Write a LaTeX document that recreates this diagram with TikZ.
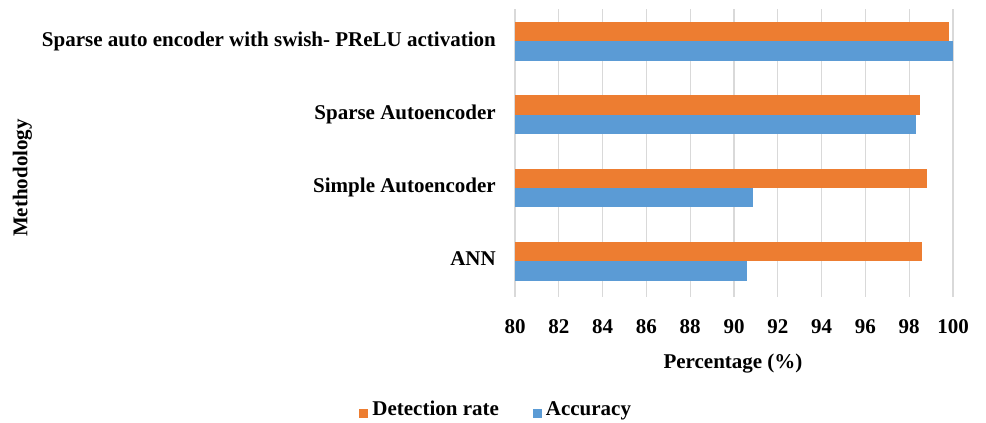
\documentclass[tikz,border=0pt]{standalone}
\usepackage{fontspec}
\setmainfont{Liberation Serif}
\usepackage{xcolor}
\usepackage{tikz}
\usetikzlibrary{positioning}
\definecolor{detorange}{HTML}{ED7D31}
\definecolor{accblue}{HTML}{5B9BD5}
\definecolor{gridgray}{HTML}{D9D9D9}
\tikzset{
    txt/.style={inner sep=0pt,text height=0.68em,text depth=0.22em,
        font=\bfseries\fontsize{21}{24}\selectfont},
    catlabel/.style={txt,anchor=east},
    ticklabel/.style={txt,anchor=center},
    gridline/.style={draw=gridgray,line width=1.2pt},
    detbar/.style={fill=detorange},
    accbar/.style={fill=accblue},
    legkey/.style={minimum size=9pt,inner sep=0pt}
}
\begin{document}
\begin{tikzpicture}[x=1pt,y=-1pt]
    \useasboundingbox (0,0) rectangle (986,423);

    % value axis: x coordinate is the percentage itself
    \begin{scope}[x=21.9pt,xshift=-1237pt]
        \foreach \v in {80,82,...,100} {
            \draw[gridline] (\v,9) -- (\v,297);
            \node[ticklabel] (tick\v) at (\v,331) {\v};
        }
        % Sparse auto encoder with swish-PReLU
        \fill[detbar] (80,22) rectangle (99.8,41);
        \fill[accbar] (80,41) rectangle (100,61);
        % Sparse autoencoder
        \fill[detbar] (80,95) rectangle (98.5,114.5);
        \fill[accbar] (80,114.5) rectangle (98.3,133.5);
        % Simple autoencoder
        \fill[detbar] (80,169) rectangle (98.8,188);
        \fill[accbar] (80,188) rectangle (90.85,207);
        % ANN
        \fill[detbar] (80,242) rectangle (98.6,261);
        \fill[accbar] (80,261) rectangle (90.6,281);
    \end{scope}

    \node[catlabel] (cat1) at (496,44) {Sparse auto encoder with swish- PReLU activation};
    \node[catlabel] (cat2) at (496,117) {Sparse Autoencoder};
    \node[catlabel] (cat3) at (496,190) {Simple Autoencoder};
    \node[catlabel] (cat4) at (496,263) {ANN};

    \node[txt,rotate=90] (ytitle) at (25,178) {Methodology};
    \node[txt] (xtitle) at (733,366) {Percentage (\%)};

    \node[legkey,fill=detorange] (keydet) at (363.5,413.5) {};
    \node[txt,right=4pt of keydet] (legdet) {Detection rate};
    \node[legkey,fill=accblue] (keyacc) at (537,413.5) {};
    \node[txt,right=4pt of keyacc] (legacc) {Accuracy};
\end{tikzpicture}
\end{document}
